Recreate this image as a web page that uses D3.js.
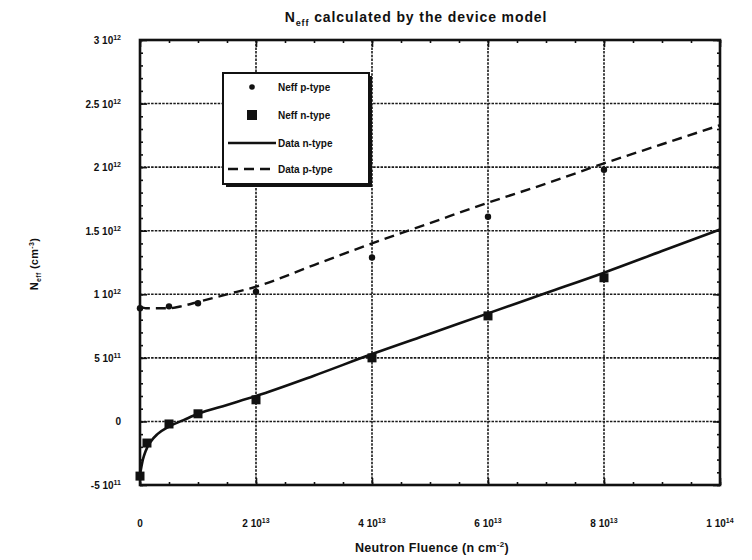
<!DOCTYPE html>
<html>
<head>
<meta charset="utf-8">
<script src="https://cdn.jsdelivr.net/npm/d3@7"></script>
<style>
  html, body { margin: 0; padding: 0; background: #fff; }
  svg { display: block; }
  text { font-family: "Liberation Sans", Arial, sans-serif; font-weight: bold; fill: #111; }
</style>
</head>
<body>
<svg id="chart" width="752" height="560"></svg>
<script>
// Measured effective doping vs. fluence (units: n/cm^2 and cm^-3)
const pFluence = [0, 5e12, 1e13, 2e13, 4e13, 6e13, 8e13];
const pNeff    = [0.89e12, 0.905e12, 0.93e12, 1.02e12, 1.29e12, 1.61e12, 1.98e12];

const nFluence = [0, 1.2e12, 5e12, 1e13, 2e13, 4e13, 6e13, 8e13];
const nNeff    = [-0.43e12, -0.17e12, -0.02e12, 0.06e12, 0.17e12, 0.5e12, 0.83e12, 1.13e12];

// Device-model curves
const modelFluence = [0, 0.5e12, 1e12, 2e12, 3e12, 5e12, 7.5e12, 1e13, 1.5e13, 2e13, 3e13, 4e13, 5e13, 6e13, 7e13, 8e13, 9e13, 1e14];
const modelN = [-0.42e12, -0.3e12, -0.23e12, -0.15e12, -0.1e12, -0.04e12, 0.01e12, 0.06e12, 0.13e12, 0.2e12, 0.36e12, 0.53e12, 0.69e12, 0.85e12, 1.01e12, 1.17e12, 1.34e12, 1.51e12];
const modelP = [0.9e12, 0.895e12, 0.89e12, 0.89e12, 0.89e12, 0.89e12, 0.91e12, 0.94e12, 1.0e12, 1.06e12, 1.23e12, 1.4e12, 1.56e12, 1.72e12, 1.87e12, 2.03e12, 2.18e12, 2.33e12];

// Axis ticks
const xTicks = [0, 2e13, 4e13, 6e13, 8e13, 1e14];
const yTicks = [-5e11, 0, 5e11, 1e12, 1.5e12, 2e12, 2.5e12, 3e12];

const legendItems = ["Neff p-type", "Neff n-type", "Data n-type", "Data p-type"];

const svg = d3.select("#chart");
const L = 140, R = 720, T = 40, B = 485;

const x = d3.scaleLinear().domain([0, 1e14]).range([L, R]);
const y = d3.scaleLinear().domain([-5e11, 3e12]).range([B, T]);

// Label like "2.5 10^12"
function sciLabel(sel, v) {
  if (v === 0) { sel.text("0"); return; }
  const e = Math.floor(Math.log10(Math.abs(v)) + 1e-9);
  const m = +(v / Math.pow(10, e)).toFixed(2);
  sel.text(null);
  sel.append("tspan").text(m + " 10");
  sel.append("tspan").attr("dy", -4).attr("font-size", "7px").text(e);
}

// Grid lines (dense dotted)
const grid = svg.append("g").attr("stroke", "#1a1a1a").attr("stroke-width", 1.6).attr("stroke-dasharray", "2.5,1.2");
grid.selectAll("line.gx").data(xTicks.slice(1, -1)).join("line")
  .attr("x1", d => x(d)).attr("x2", d => x(d)).attr("y1", T).attr("y2", B);
grid.selectAll("line.gy").data(yTicks.slice(1, -1)).join("line")
  .attr("x1", L).attr("x2", R).attr("y1", d => y(d)).attr("y2", d => y(d));

// Axes with inward major and minor ticks on all four sides
const xMinor = d3.range(0, 1e14 + 1, 5e12);
const yMinor = d3.range(-5e11, 3e12 + 1, 1e11);
function addAxis(axisGen, scale, major, minor, transform) {
  const gMin = svg.append("g").attr("transform", transform)
    .call(axisGen(scale).tickValues(minor).tickSize(-3).tickFormat(""));
  const gMaj = svg.append("g").attr("transform", transform)
    .call(axisGen(scale).tickValues(major).tickSize(-7).tickFormat(""));
  [gMin, gMaj].forEach(g => {
    g.selectAll(".domain").remove();
    g.selectAll("line").attr("stroke", "#111").attr("stroke-width", 1.6);
  });
}
addAxis(d3.axisBottom, x, xTicks, xMinor, `translate(0,${B})`);
addAxis(d3.axisTop, x, xTicks, xMinor, `translate(0,${T})`);
addAxis(d3.axisLeft, y, yTicks, yMinor, `translate(${L},0)`);
addAxis(d3.axisRight, y, yTicks, yMinor, `translate(${R},0)`);

// Frame
svg.append("rect").attr("x", L).attr("y", T).attr("width", R - L).attr("height", B - T)
  .attr("fill", "none").attr("stroke", "#111").attr("stroke-width", 2.6);

// Tick labels
svg.selectAll("text.xt").data(xTicks).join("text")
  .attr("x", d => x(d)).attr("y", 527).attr("text-anchor", "middle").attr("font-size", "10px")
  .each(function(d) { sciLabel(d3.select(this), d); });
svg.selectAll("text.yt").data(yTicks).join("text")
  .attr("x", 121).attr("y", d => y(d) + 4).attr("text-anchor", "end").attr("font-size", "10px")
  .each(function(d) { sciLabel(d3.select(this), d); });

// Model curves
const line = d3.line().x(d => x(d[0])).y(d => y(d[1])).curve(d3.curveMonotoneX);
svg.append("path").datum(d3.zip(modelFluence, modelN)).attr("d", line)
  .attr("fill", "none").attr("stroke", "#111").attr("stroke-width", 2.6);
svg.append("path").datum(d3.zip(modelFluence, modelP)).attr("d", line)
  .attr("fill", "none").attr("stroke", "#111").attr("stroke-width", 2.4).attr("stroke-dasharray", "10,6");

// Measured points
svg.selectAll("circle.p").data(d3.zip(pFluence, pNeff)).join("circle")
  .attr("cx", d => x(d[0])).attr("cy", d => y(d[1])).attr("r", 3.2).attr("fill", "#111");
svg.selectAll("rect.n").data(d3.zip(nFluence, nNeff)).join("rect")
  .attr("x", d => x(d[0]) - 4.5).attr("y", d => y(d[1]) - 4.5).attr("width", 9).attr("height", 9).attr("fill", "#111");

// Legend
const lg = svg.append("g");
lg.append("rect").attr("x", 226).attr("y", 76).attr("width", 146).attr("height", 111).attr("fill", "#111");
lg.append("rect").attr("x", 223).attr("y", 73).attr("width", 146).attr("height", 111)
  .attr("fill", "#fff").attr("stroke", "#111").attr("stroke-width", 2);
const rowY = [87, 115, 143, 169];
legendItems.forEach((name, i) => {
  lg.append("text").attr("x", 278).attr("y", rowY[i] + 4).attr("font-size", "10px").text(name);
});
lg.append("circle").attr("cx", 252).attr("cy", rowY[0]).attr("r", 2.8).attr("fill", "#111");
lg.append("rect").attr("x", 247).attr("y", rowY[1] - 5).attr("width", 10).attr("height", 10).attr("fill", "#111");
lg.append("line").attr("x1", 228).attr("x2", 276).attr("y1", rowY[2]).attr("y2", rowY[2])
  .attr("stroke", "#111").attr("stroke-width", 2.4);
lg.append("line").attr("x1", 228).attr("x2", 276).attr("y1", rowY[3]).attr("y2", rowY[3])
  .attr("stroke", "#111").attr("stroke-width", 2.4).attr("stroke-dasharray", "10,6");

// Title
const title = svg.append("text").attr("x", 416).attr("y", 22).attr("text-anchor", "middle")
  .attr("font-size", "14px").attr("letter-spacing", "0.9px");
title.append("tspan").text("N");
title.append("tspan").attr("dy", 4).attr("font-size", "9px").text("eff");
title.append("tspan").attr("dy", -4).text("  calculated by the device model");

// Axis titles
const xt = svg.append("text").attr("x", 432).attr("y", 552).attr("text-anchor", "middle").attr("font-size", "12.5px")
  .attr("letter-spacing", "0.3px");
xt.append("tspan").text("Neutron Fluence (n cm");
xt.append("tspan").attr("dy", -5).attr("font-size", "8px").text("-2");
xt.append("tspan").attr("dy", 5).text(")");

const yt = svg.append("text").attr("transform", `translate(38,264) rotate(-90)`).attr("text-anchor", "middle")
  .attr("font-size", "11px").attr("letter-spacing", "0.3px");
yt.append("tspan").text("N");
yt.append("tspan").attr("dy", 3).attr("font-size", "7px").text("eff");
yt.append("tspan").attr("dy", -3).text("   (cm");
yt.append("tspan").attr("dy", -4).attr("font-size", "7px").text("-3");
yt.append("tspan").attr("dy", 4).text(")");
</script>
</body>
</html>
